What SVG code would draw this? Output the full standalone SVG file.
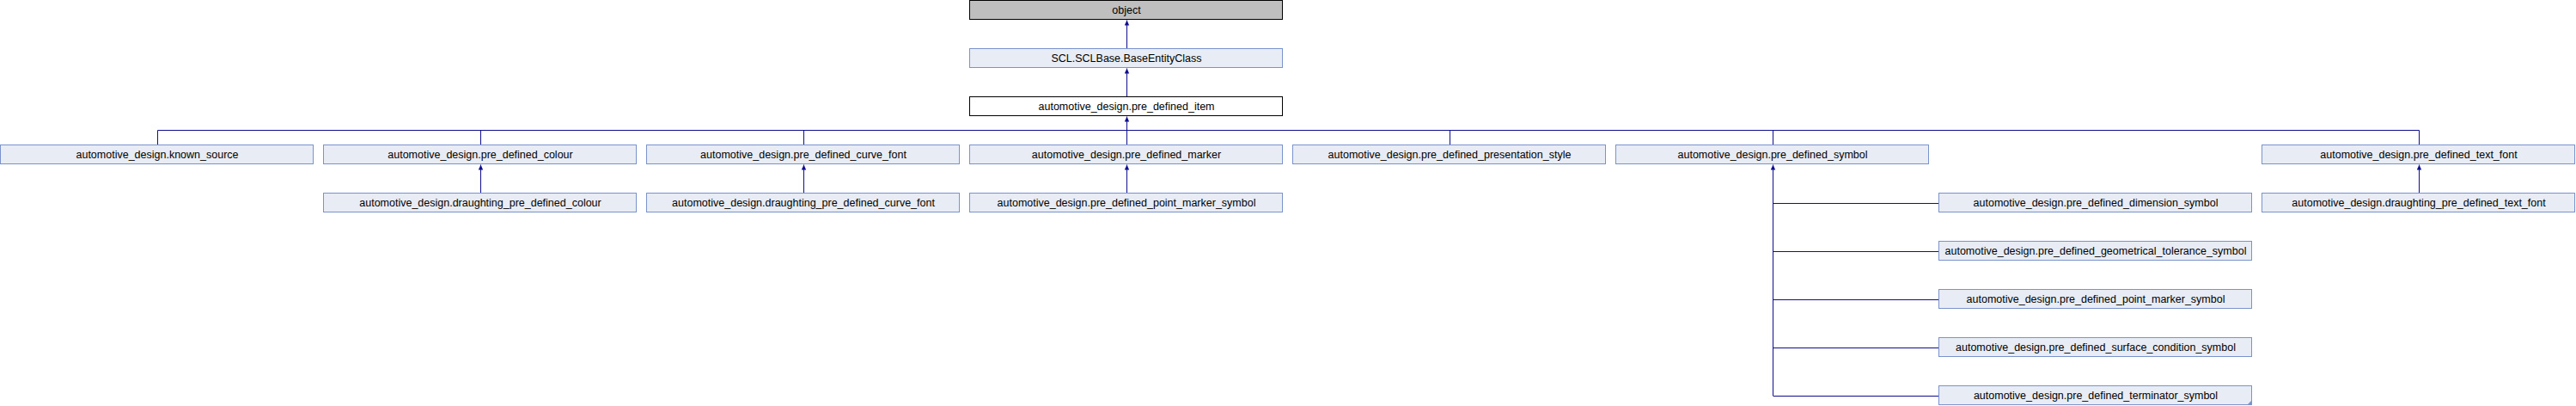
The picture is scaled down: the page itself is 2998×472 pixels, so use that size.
<svg xmlns="http://www.w3.org/2000/svg" width="2998" height="472" viewBox="0 0 2998 472">
<style>
.n rect{fill:#e8ecf4;stroke:#7a93cc;stroke-width:1}
.n text{font-family:"Liberation Sans",Arial,sans-serif;font-size:12.5px;fill:#000;text-anchor:middle}
#n_object rect{fill:#bfbfbf;stroke:#000}
#n_item rect{fill:#fff;stroke:#000}
.e path{fill:none;stroke:#0e0e8e;stroke-width:1}
.e path.a{marker-end:url(#arr)}
</style>
<defs>
<marker id="arr" markerUnits="userSpaceOnUse" viewBox="0 0 6 6" markerWidth="6" markerHeight="6" refX="6" refY="3" orient="auto">
<path d="M0,0.3 L6,3 L0,5.7 z" fill="#0e0e8e"/>
</marker>
</defs>
<rect width="2998" height="472" fill="#fff"/>
<g class="e" id="edges">
<path class="a" d="M1311.5,56 V23.5"/>
<path class="a" d="M1311.5,112 V79.5"/>
<path d="M183.5,151.5 H2815.5"/>
<path class="a" d="M1311.5,168 V135.5"/>
<path d="M183.5,168 V151.5"/>
<path d="M559.5,168 V151.5"/>
<path d="M935.5,168 V151.5"/>
<path d="M1687.5,168 V151.5"/>
<path d="M2063.5,168 V151.5"/>
<path d="M2815.5,168 V151.5"/>
<path class="a" d="M559.5,224 V191.5"/>
<path class="a" d="M935.5,224 V191.5"/>
<path class="a" d="M1311.5,224 V191.5"/>
<path class="a" d="M2815.5,224 V191.5"/>
<path class="a" d="M2063.5,460 V191.5"/>
<path d="M2063.5,236.5 H2256"/>
<path d="M2063.5,292.5 H2256"/>
<path d="M2063.5,348.5 H2256"/>
<path d="M2063.5,404.5 H2256"/>
<path d="M2063.5,460.5 H2256"/>
</g>
<g class="n" id="n_object"><rect x="1128.5" y="0.5" width="364" height="22"/><text x="1311" y="15.5">object</text></g>
<g class="n" id="n_base"><rect x="1128.5" y="56.5" width="364" height="22"/><text x="1311" y="71.5">SCL.SCLBase.BaseEntityClass</text></g>
<g class="n" id="n_item"><rect x="1128.5" y="112.5" width="364" height="22"/><text x="1311" y="127.5">automotive_design.pre_defined_item</text></g>
<g class="n" id="n_known_source"><rect x="0.5" y="168.5" width="364" height="22"/><text x="183" y="183.5">automotive_design.known_source</text></g>
<g class="n" id="n_colour"><rect x="376.5" y="168.5" width="364" height="22"/><text x="559" y="183.5">automotive_design.pre_defined_colour</text></g>
<g class="n" id="n_curve_font"><rect x="752.5" y="168.5" width="364" height="22"/><text x="935" y="183.5">automotive_design.pre_defined_curve_font</text></g>
<g class="n" id="n_marker"><rect x="1128.5" y="168.5" width="364" height="22"/><text x="1311" y="183.5">automotive_design.pre_defined_marker</text></g>
<g class="n" id="n_pres_style"><rect x="1504.5" y="168.5" width="364" height="22"/><text x="1687" y="183.5">automotive_design.pre_defined_presentation_style</text></g>
<g class="n" id="n_symbol"><rect x="1880.5" y="168.5" width="364" height="22"/><text x="2063" y="183.5">automotive_design.pre_defined_symbol</text></g>
<g class="n" id="n_text_font"><rect x="2632.5" y="168.5" width="364" height="22"/><text x="2815" y="183.5">automotive_design.pre_defined_text_font</text></g>
<g class="n" id="n_dr_colour"><rect x="376.5" y="224.5" width="364" height="22"/><text x="559" y="239.5">automotive_design.draughting_pre_defined_colour</text></g>
<g class="n" id="n_dr_curve_font"><rect x="752.5" y="224.5" width="364" height="22"/><text x="935" y="239.5">automotive_design.draughting_pre_defined_curve_font</text></g>
<g class="n" id="n_point_marker_symbol_a"><rect x="1128.5" y="224.5" width="364" height="22"/><text x="1311" y="239.5">automotive_design.pre_defined_point_marker_symbol</text></g>
<g class="n" id="n_dimension_symbol"><rect x="2256.5" y="224.5" width="364" height="22"/><text x="2439" y="239.5">automotive_design.pre_defined_dimension_symbol</text></g>
<g class="n" id="n_dr_text_font"><rect x="2632.5" y="224.5" width="364" height="22"/><text x="2815" y="239.5">automotive_design.draughting_pre_defined_text_font</text></g>
<g class="n" id="n_geom_tol_symbol"><rect x="2256.5" y="280.5" width="364" height="22"/><text x="2439" y="295.5">automotive_design.pre_defined_geometrical_tolerance_symbol</text></g>
<g class="n" id="n_point_marker_symbol_b"><rect x="2256.5" y="336.5" width="364" height="22"/><text x="2439" y="351.5">automotive_design.pre_defined_point_marker_symbol</text></g>
<g class="n" id="n_surface_symbol"><rect x="2256.5" y="392.5" width="364" height="22"/><text x="2439" y="407.5">automotive_design.pre_defined_surface_condition_symbol</text></g>
<g class="n" id="n_terminator_symbol"><rect x="2256.5" y="448.5" width="364" height="22"/><text x="2439" y="463.5">automotive_design.pre_defined_terminator_symbol</text><polygon points="2621,465 2621,471 2615,471" fill="#7a93cc"/></g>
</svg>
